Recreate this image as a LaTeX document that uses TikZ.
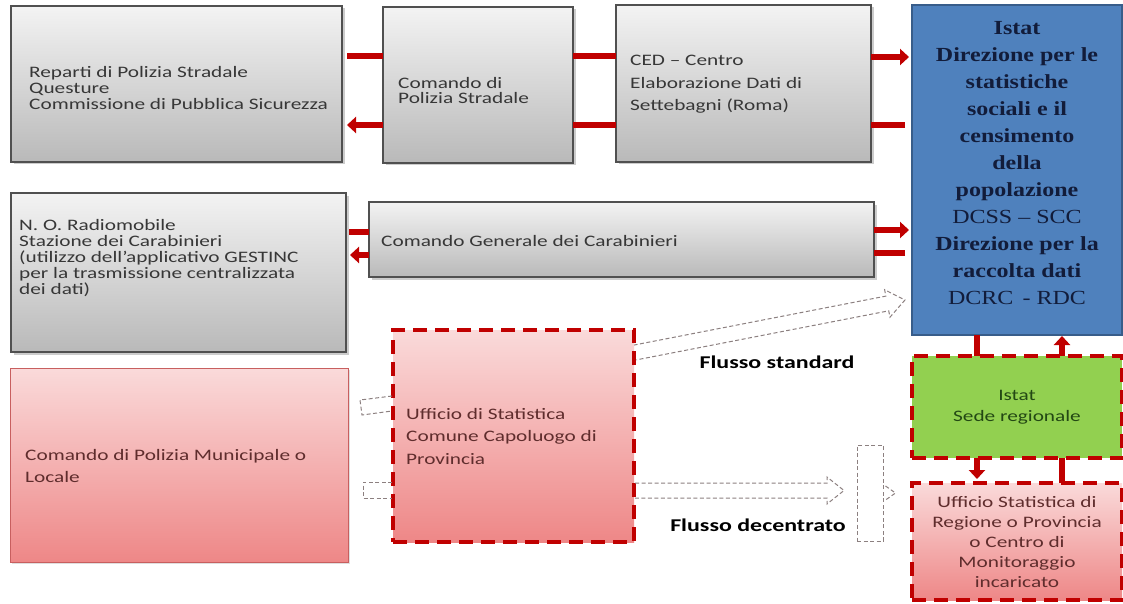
\documentclass[tikz,border=0pt]{standalone}
\usepackage{fontspec}
\usetikzlibrary{arrows.meta,shadows,calc}
\newfontfamily\calfont[Ligatures=TeX,FakeStretch=1.33]{Carlito}
\newfontfamily\tnrfont[Ligatures=TeX,FakeStretch=1.2]{Liberation Serif}
\definecolor{rd}{RGB}{192,0,0}
\definecolor{bluefill}{RGB}{79,129,189}
\definecolor{blueedge}{RGB}{56,93,138}
\definecolor{navy}{RGB}{18,28,58}
\definecolor{grn}{RGB}{146,208,80}
\definecolor{grntext}{RGB}{35,72,20}
\definecolor{pinktop}{RGB}{250,218,218}
\definecolor{pinkbot}{RGB}{238,135,135}
\definecolor{pinkedge}{RGB}{200,95,95}
\definecolor{pinktext}{RGB}{95,45,45}
\definecolor{graytext}{RGB}{55,55,55}
\definecolor{gtop}{RGB}{243,243,243}
\definecolor{gbot}{RGB}{185,185,185}
\definecolor{gedge}{RGB}{80,80,80}
\definecolor{dgray}{RGB}{140,128,128}
\begin{document}
\begin{tikzpicture}[x=1pt,y=-1pt,
  box/.style={anchor=north west, inner sep=0pt, outer sep=0pt},
  graybox/.style={box, draw=gedge, line width=1.2pt, top color=gtop, bottom color=gbot,
    drop shadow={shadow xshift=2.5pt, shadow yshift=-2.5pt, opacity=.4}},
  pinkbox/.style={box, top color=pinktop, bottom color=pinkbot},
  reddash/.style={draw=rd, line width=4pt, dash pattern=on 14pt off 8pt},
  redline/.style={draw=rd, line width=6.5pt},
  redarrow/.style={redline, -{Triangle[length=9pt,width=16pt]}},
  thindash/.style={draw=dgray, line width=1pt, dash pattern=on 4pt off 2.5pt},
  gtxt/.style={anchor=west, align=left, text=graytext, inner sep=0pt},
  ptxt/.style={anchor=west, align=left, text=pinktext, inner sep=0pt},
  flab/.style={inner sep=0pt, text=black, font=\calfont\bfseries\fontsize{18}{18}\selectfont}
]
\fill[white] (0,0) rectangle (1123,604);
\useasboundingbox (0,0) rectangle (1123,604);

% ---------- boxes ----------
\node[graybox, minimum width=331pt, minimum height=156pt] (rep) at (11,6) {};
\node[gtxt, font=\calfont\fontsize{16}{16}\selectfont] (rept) at ($(rep.west)+(18,4)$)
  {Reparti di Polizia Stradale\\Questure\\Commissione di Pubblica Sicurezza};

\node[graybox, minimum width=190pt, minimum height=156pt] (cps) at (383,7) {};
\node[gtxt, font=\calfont\fontsize{16}{15.5}\selectfont] (cpst) at ($(cps.west)+(15,5.5)$)
  {Comando di\\Polizia Stradale};

\node[graybox, minimum width=255pt, minimum height=157pt] (ced) at (616,5) {};
\node[gtxt, font=\calfont\fontsize{16}{22.5}\selectfont] (cedt) at ($(ced.west)+(14,1)$)
  {CED – Centro\\Elaborazione Dati di\\Settebagni (Roma)};

\node[box, draw=blueedge, line width=1.2pt, fill=bluefill, minimum width=210pt, minimum height=330pt] (istat) at (912,5) {};
\node[align=center, inner sep=0pt, text=navy, font=\tnrfont\fontsize{20}{27}\selectfont] (istatt) at ($(istat.center)+(0,-7)$)
  {\textbf{Istat}\\\textbf{Direzione per le}\\\textbf{statistiche}\\\textbf{sociali e il}\\\textbf{censimento}\\\textbf{della}\\\textbf{popolazione}\\DCSS – SCC\\\textbf{Direzione per la}\\\textbf{raccolta dati}\\DCRC \,- RDC};

\node[graybox, minimum width=505pt, minimum height=75pt] (cgc) at (369,202) {};
\node[gtxt, font=\calfont\fontsize{16}{16}\selectfont] (cgct) at ($(cgc.west)+(12,1.5)$)
  {Comando Generale dei Carabinieri};

\node[graybox, minimum width=335pt, minimum height=159pt] (no) at (11,193) {};
\node[gtxt, font=\calfont\fontsize{16}{16}\selectfont] (not) at ($(no.west)+(8,-14)$)
  {N. O. Radiomobile\\Stazione dei Carabinieri\\(utilizzo dell’applicativo GESTINC\\per la trasmissione centralizzata\\dei dati)};

% gray dashed block arrows (behind the boxes)
\coordinate (fs0) at ($(634,436)+(1,-83.5)$);
\begin{scope}[shift={(fs0)}, rotate=11]
  \draw[thindash] (0,-7.5) -- (257,-7.5) -- (257,-14) -- (275,0) -- (257,14) -- (257,7.5) -- (0,7.5);
\end{scope}

\node[pinkbox, draw=pinkedge, line width=1pt, minimum width=338pt, minimum height=194pt,
  drop shadow={shadow xshift=2pt, shadow yshift=-2pt, opacity=.25}] (mun) at (10,368) {};
\node[ptxt, font=\calfont\fontsize{16}{22}\selectfont] (munt) at ($(mun.west)+(15,1)$)
  {Comando di Polizia Municipale o\\Locale};

\node[pinkbox, reddash, minimum width=241pt, minimum height=212pt] (uff) at (393,330) {};
\node[ptxt, font=\calfont\fontsize{16}{22.5}\selectfont] (ufft) at ($(uff.west)+(13,0)$)
  {Ufficio di Statistica\\Comune Capoluogo di\\Provincia};

% small block-arrow tails from the municipal box into the office box
\draw[thindash] ($(uff.west)+(-1,-40)$) -- ($(uff.west)+(-33,-36)$) -- ($(uff.west)+(-31,-21)$) -- ($(uff.west)+(-1,-25)$);
\draw[thindash] ($(uff.west)+(-1,46)$) -- ($(uff.west)+(-30,46)$) -- ($(uff.west)+(-30,62)$) -- ($(uff.west)+(-1,62)$);

% flusso decentrato
\coordinate (fd0) at ($(uff.east)+(1,54.5)$);
\begin{scope}[shift={(fd0)}]
  \draw[thindash] (0,-7.5) -- (192,-7.5) -- (192,-13.5) -- (209,0) -- (192,13.5) -- (192,7.5) -- (0,7.5);
\end{scope}
\node[draw=dgray, line width=1pt, dash pattern=on 4pt off 2.5pt, minimum width=26pt, minimum height=96pt, inner sep=0pt] (tr) at (870,493) {};
\draw[thindash] ($(tr.east)+(2,-7)$) -- ($(tr.east)+(12,0)$) -- ($(tr.east)+(2,7)$);

\node[box, fill=grn, reddash, minimum width=210pt, minimum height=102pt, align=center,
  text=grntext, font=\calfont\fontsize{16}{21}\selectfont] (green) at (912,356) {Istat\\Sede regionale};

\node[pinkbox, reddash, minimum width=210pt, minimum height=117pt, align=center,
  text=pinktext, font=\calfont\fontsize{16}{20}\selectfont] (pinkb) at (912,483)
  {Ufficio Statistica di\\Regione o Provincia\\o Centro di\\Monitoraggio\\incaricato};

% labels
\node[flab] (fst) at (777,362) {Flusso standard};
\node[flab] (fdc) at (758,525) {Flusso decentrato};

% ---------- red connectors ----------
\draw[redline, shorten <=5pt] ($(rep.east)+(0,-28)$) -- ($(cps.west)+(0,-29)$);
\draw[redarrow, shorten >=5pt] ($(cps.west)+(0,40)$) -- ($(rep.east)+(0,41)$);
\draw[redline] ($(cps.east)+(0,-29)$) -- ($(ced.west)+(0,-27.5)$);
\draw[redline] ($(cps.east)+(0,40)$) -- ($(ced.west)+(0,41.5)$);
\draw[redarrow, shorten >=3pt] ($(ced.east)+(0,-26.5)$) -- ($(istat.west)+(0,-113)$);
\draw[redline, shorten <=7pt] ($(istat.west)+(0,-45)$) -- ($(ced.east)+(0,41.5)$);
\draw[redarrow, shorten >=3pt] ($(cgc.east)+(0,-9.5)$) -- ($(istat.west)+(0,60)$);
\draw[redline, shorten <=7pt] ($(istat.west)+(0,83)$) -- ($(cgc.east)+(0,13.5)$);
\draw[redline, shorten >=3pt] ($(cgc.west)+(0,-7.5)$) -- ($(no.east)+(0,-40.5)$);
\draw[redarrow, shorten >=4pt] ($(cgc.west)+(0,15.5)$) -- ($(no.east)+(0,-17.5)$);
\draw[redline] ($(istat.south)+(-40,0)$) -- ($(green.north)+(-40,0)$);
\draw[redarrow, shorten >=1pt] ($(green.north)+(45,0)$) -- ($(istat.south)+(45,0)$);
\draw[redarrow, shorten >=4pt] ($(green.south)+(-40,0)$) -- ($(pinkb.north)+(-40,0)$);
\draw[redline] ($(pinkb.north)+(45,0)$) -- ($(green.south)+(45,0)$);
\end{tikzpicture}
\end{document}
